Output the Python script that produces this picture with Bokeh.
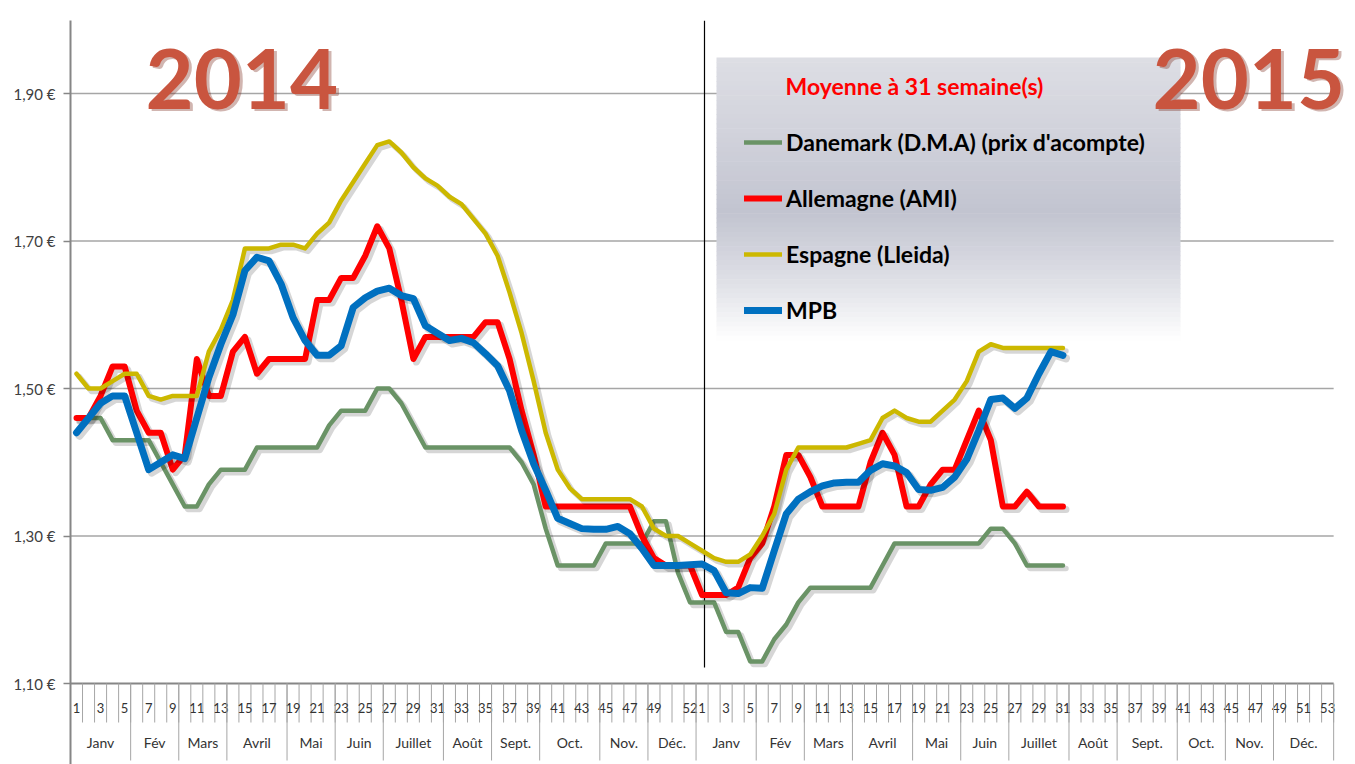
from bokeh.plotting import figure
from bokeh.models import Range1d, FixedTicker, Label, Legend, LegendItem, CustomJSTickFormatter
from bokeh.core.properties import value
from bokeh.embed import file_html
from bokeh.resources import INLINE

# ---------------- data ----------------
weeks_2014 = list(range(1, 53))
weeks_2015 = list(range(1, 54))
months = ["Janv", "Fév", "Mars", "Avril", "Mai", "Juin", "Juillet", "Août", "Sept.", "Oct.", "Nov.", "Déc."]
month_len_2014 = [5, 4, 4, 5, 4, 4, 5, 4, 4, 5, 4, 4]
month_len_2015 = [5, 4, 4, 5, 4, 4, 5, 4, 5, 4, 4, 5]
shown_2014 = [w for w in weeks_2014 if w % 2 == 1 and w <= 49] + [52]
shown_2015 = [w for w in weeks_2015 if w % 2 == 1]
y_ticks = [1.10, 1.30, 1.50, 1.70, 1.90]

danemark_2014 = [1.46, 1.46, 1.46, 1.43, 1.43, 1.43, 1.43, 1.40, 1.37, 1.34, 1.34, 1.37, 1.39, 1.39, 1.39, 1.42,
                 1.42, 1.42, 1.42, 1.42, 1.42, 1.45, 1.47, 1.47, 1.47, 1.50, 1.50, 1.48, 1.45, 1.42, 1.42, 1.42,
                 1.42, 1.42, 1.42, 1.42, 1.42, 1.40, 1.37, 1.31, 1.26, 1.26, 1.26, 1.26, 1.29, 1.29, 1.29, 1.29,
                 1.32, 1.32, 1.25, 1.21]
danemark_2015 = [1.21, 1.21, 1.17, 1.17, 1.13, 1.13, 1.16, 1.18, 1.21, 1.23, 1.23, 1.23, 1.23, 1.23, 1.23, 1.26,
                 1.29, 1.29, 1.29, 1.29, 1.29, 1.29, 1.29, 1.29, 1.31, 1.31, 1.29, 1.26, 1.26, 1.26, 1.26]

allemagne_2014 = [1.46, 1.46, 1.49, 1.53, 1.53, 1.47, 1.44, 1.44, 1.39, 1.41, 1.54, 1.49, 1.49, 1.55, 1.57, 1.52,
                  1.54, 1.54, 1.54, 1.54, 1.62, 1.62, 1.65, 1.65, 1.68, 1.72, 1.69, 1.62, 1.54, 1.57, 1.57, 1.57,
                  1.57, 1.57, 1.59, 1.59, 1.54, 1.47, 1.41, 1.34, 1.34, 1.34, 1.34, 1.34, 1.34, 1.34, 1.34, 1.30,
                  1.27, 1.26, 1.26, 1.26]
allemagne_2015 = [1.22, 1.22, 1.22, 1.23, 1.27, 1.29, 1.34, 1.41, 1.41, 1.38, 1.34, 1.34, 1.34, 1.34, 1.40, 1.44,
                  1.41, 1.34, 1.34, 1.37, 1.39, 1.39, 1.43, 1.47, 1.43, 1.34, 1.34, 1.36, 1.34, 1.34, 1.34]

espagne_2014 = [1.52, 1.50, 1.50, 1.51, 1.52, 1.52, 1.49, 1.485, 1.49, 1.49, 1.49, 1.55, 1.58, 1.62, 1.69, 1.69,
                1.69, 1.695, 1.695, 1.69, 1.71, 1.725, 1.755, 1.78, 1.805, 1.83, 1.835, 1.82, 1.80, 1.785, 1.775,
                1.76, 1.75, 1.73, 1.71, 1.68, 1.63, 1.575, 1.51, 1.44, 1.39, 1.365, 1.35, 1.35, 1.35, 1.35, 1.35,
                1.34, 1.31, 1.30, 1.30, 1.29]
espagne_2015 = [1.28, 1.27, 1.265, 1.265, 1.275, 1.30, 1.33, 1.39, 1.42, 1.42, 1.42, 1.42, 1.42, 1.425, 1.43,
                1.46, 1.47, 1.46, 1.455, 1.455, 1.47, 1.485, 1.51, 1.55, 1.56, 1.555, 1.555, 1.555, 1.555, 1.555,
                1.555]

mpb_2014 = [1.44, 1.46, 1.48, 1.49, 1.49, 1.44, 1.39, 1.40, 1.41, 1.405, 1.46, 1.515, 1.56, 1.60, 1.66, 1.678,
            1.673, 1.642, 1.596, 1.565, 1.545, 1.545, 1.558, 1.61, 1.623, 1.632, 1.636, 1.626, 1.622, 1.585, 1.575,
            1.565, 1.568, 1.562, 1.547, 1.531, 1.497, 1.443, 1.398, 1.362, 1.324, 1.317, 1.31, 1.309, 1.309, 1.313,
            1.303, 1.283, 1.26, 1.26, 1.26, 1.261]
mpb_2015 = [1.262, 1.253, 1.223, 1.222, 1.23, 1.229, 1.28, 1.33, 1.35, 1.36, 1.368, 1.372, 1.373, 1.373, 1.389,
            1.398, 1.395, 1.386, 1.363, 1.362, 1.366, 1.38, 1.404, 1.443, 1.485, 1.487, 1.473, 1.487, 1.52, 1.55,
            1.545]

series = [
    ("Danemark (D.M.A) (prix d'acompte)", danemark_2014, danemark_2015, "#6a9366", 4.5),
    ("Allemagne (AMI)", allemagne_2014, allemagne_2015, "#ff0000", 6),
    ("Espagne (Lleida)", espagne_2014, espagne_2015, "#ccb800", 4.5),
    ("MPB", mpb_2014, mpb_2015, "#0070c0", 7),
]
draw_order = [0, 1, 2, 3]

# ---------------- geometry helpers (reference pixels -> data) ----------------
W, H = 1355, 764
PX_X = 12.03      # pixels per week
PX_Y = 737.5      # pixels per euro
def X(px):
    return -0.5 + (px - 70) / PX_X
def Y(py):
    return 1.10 + (683 - py) / PX_Y

n_cat = len(weeks_2014) + len(weeks_2015)

p = figure(width=W, height=H, output_backend="svg", toolbar_location=None,
           x_range=Range1d(-0.5, X(W)), y_range=Range1d(Y(H), Y(20)),
           min_border_left=70, min_border_right=0, min_border_top=20, min_border_bottom=0)
p.xaxis.visible = False
p.grid.visible = False
p.outline_line_color = None
p.background_fill_color = "white"
p.border_fill_color = "white"

ax = p.yaxis[0]
ax.ticker = FixedTicker(ticks=y_ticks, minor_ticks=[])
ax.formatter = CustomJSTickFormatter(code="return tick.toFixed(2).replace('.', ',') + ' €';")
ax.axis_line_color = "#868686"
ax.axis_line_width = 2
ax.major_tick_line_color = "#868686"
ax.major_tick_line_width = 1.5
ax.major_tick_out = 7
ax.major_tick_in = 0
ax.minor_tick_line_color = None
ax.major_label_standoff = 8
ax.major_label_text_font = "Lato"
ax.major_label_text_font_size = "15px"
ax.major_label_text_color = "#404040"

# horizontal gridlines
grid_vals = [v for v in y_ticks if v > 1.10]
p.segment(x0=[-0.5] * len(grid_vals), y0=grid_vals, x1=[n_cat - 0.5] * len(grid_vals), y1=grid_vals,
          line_color="#a6a6a6", line_width=1.5)

# category axis (drawn by hand below the 1.10 line)
p.segment(x0=[-0.5], y0=[1.10], x1=[n_cat - 0.5], y1=[1.10], line_color="#868686", line_width=2)
bounds = [k - 0.5 for k in range(1, n_cat + 1)]
p.segment(x0=bounds, y0=[1.10] * len(bounds), x1=bounds, y1=[Y(722)] * len(bounds),
          line_color="#a6a6a6", line_width=1)

label_x = [w - 1 for w in shown_2014] + [len(weeks_2014) + w - 1 for w in shown_2015]
label_t = [str(w) for w in shown_2014] + [str(w) for w in shown_2015]
p.text(x=label_x, y=[Y(707)] * len(label_x), text=label_t, text_font=value("Lato"),
       text_font_size="13px", text_align="center", text_baseline="middle", text_color="#333333")

m_x, m_t, m_b = [], [], []
start = 0
for lens in (month_len_2014, month_len_2015):
    for name, ln in zip(months, lens):
        m_x.append(start + (ln - 1) / 2)
        m_t.append(name)
        start += ln
        m_b.append(start - 0.5)
p.segment(x0=m_b, y0=[1.10] * len(m_b), x1=m_b, y1=[Y(760)] * len(m_b), line_color="#a6a6a6", line_width=1)
p.text(x=m_x, y=[Y(742)] * len(m_x), text=m_t, text_font=value("Lato"),
       text_font_size="14px", text_align="center", text_baseline="middle", text_color="#333333")

# legend background (gradient box)
stops = [(0.0, (221, 222, 228)), (0.25, (210, 211, 220)), (0.55, (194, 196, 208)),
         (0.8, (224, 225, 231)), (1.0, (255, 255, 255))]
def grad(t):
    for (t0, c0), (t1, c1) in zip(stops[:-1], stops[1:]):
        if t0 <= t <= t1:
            f = (t - t0) / (t1 - t0)
            return "#%02x%02x%02x" % tuple(int(round(a + (b - a) * f)) for a, b in zip(c0, c1))
    return "#ffffff"
nb = 60
top_px, bot_px = 57, 340
bt, bb, bc = [], [], []
for i in range(nb):
    a = top_px + (bot_px - top_px) * i / nb
    b = top_px + (bot_px - top_px) * (i + 1) / nb
    bt.append(Y(a))
    bb.append(Y(b + 0.6))
    bc.append(grad((i + 0.5) / nb))
p.quad(left=[X(716)] * nb, right=[X(1180)] * nb, top=bt, bottom=bb, fill_color=bc, line_color=None)

# separator between the two years
p.segment(x0=[X(704)], y0=[Y(20)], x1=[X(704)], y1=[Y(667)], line_color="black", line_width=1.2)

# series lines (with soft drop shadow)
renderers = {}
for idx in draw_order:
    name, s14, s15, col, lw = series[idx]
    xs = list(range(len(s14))) + [len(weeks_2014) + i for i in range(len(s15))]
    ys = s14 + s15
    p.line([x + 3 / PX_X for x in xs], [y - 3 / PX_Y for y in ys], line_color="#000000", line_alpha=0.16,
           line_width=lw + 1, line_join="round", line_cap="round")
    renderers[idx] = p.line(xs, ys, line_color=col, line_width=lw, line_join="round", line_cap="round")

# legend rows centred at 142, 198, 254, 310 px; glyph starts at x = 744 px
legend = Legend(items=[LegendItem(label=series[i][0], renderers=[renderers[i]]) for i in range(4)],
                location=(744 - 70, H - 325), padding=0, margin=0, spacing=26, label_height=30,
                glyph_height=30, glyph_width=38, label_standoff=4, background_fill_alpha=0,
                border_line_alpha=0, label_text_font="Lato", label_text_font_style="bold",
                label_text_font_size="23px", label_text_color="#000000")
p.add_layout(legend)

p.add_layout(Label(x=X(785), y=Y(85), text="Moyenne à  31 semaine(s)", text_font="Lato",
                   text_font_style="bold", text_font_size="23px", text_color="#ff0000",
                   text_baseline="middle"))

# decorative year titles
for txt, xpx in (("2014", 145), ("2015", 1152)):
    p.add_layout(Label(x=X(xpx + 3), y=Y(80), text=txt, text_font="Lato", text_font_style="bold",
                       text_font_size="83px", text_color="#7a2a1c", text_alpha=0.35, text_baseline="alphabetic"))
    p.add_layout(Label(x=X(xpx), y=Y(78), text=txt, text_font="Lato", text_font_style="bold",
                       text_font_size="83px", text_color="#c9553f", text_baseline="alphabetic"))

open("out.html", "w").write(file_html(p, INLINE))
